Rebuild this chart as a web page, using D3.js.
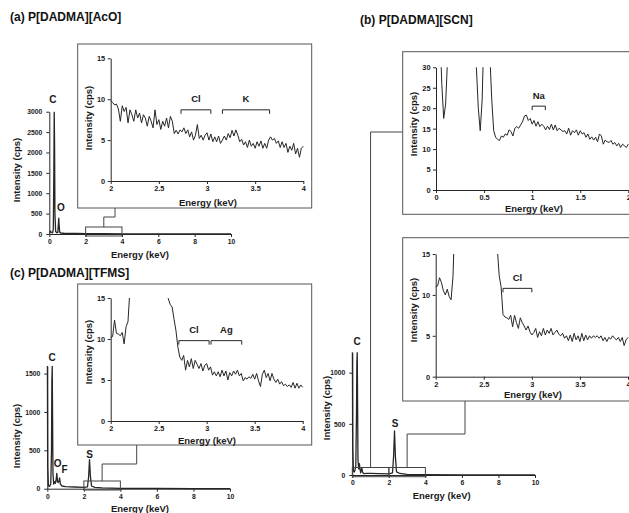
<!DOCTYPE html>
<html>
<head>
<meta charset="utf-8">
<script src="https://cdn.jsdelivr.net/npm/d3@7"></script>
<style>
  body { margin: 0; background: #fff; }
  svg { display: block; font-family: "Liberation Sans", Arial, sans-serif; font-weight: bold; }
</style>
</head>
<body>
<svg id="chart" width="629" height="513"></svg>
<script>
// ---- values ----
const step = 0.02; // keV per channel in the zoomed spectra

// (a) P[DADMA][AcO], full spectrum
const mainAEnergy = [0, 0.06, 0.12, 0.18, 0.22, 0.25, 0.27, 0.29, 0.31, 0.35, 0.42, 0.47, 0.5, 0.52, 0.54, 0.57, 0.62, 0.8, 1, 1.5, 2, 3, 4, 6, 8, 10];
const mainACps    = [20, 70, 40, 30, 120, 1500, 3000, 2200, 500, 60, 30, 40, 250, 390, 230, 50, 25, 18, 15, 12, 10, 6, 4, 3, 2, 1];
// (a) zoom 2-4 keV
const insetAStart = 2;
const insetACps = [
  9.8, 9.6, 9.3, 9.4, 8.8, 7.3, 9.2, 8.5, 9.0, 7.1,
  8.7, 8.1, 7.3, 8.7, 7.7, 8.3, 7.1, 8.1, 7.7, 6.7,
  7.9, 7.3, 6.5, 8.7, 6.9, 7.5, 6.3, 7.3, 6.7, 7.7,
  6.5, 7.9, 7.3, 5.8, 6.2, 5.75, 6.25, 6.0, 6.5, 5.8,
  6.25, 5.4, 6.0, 5.0, 5.6, 6.9, 5.2, 5.6, 5.0, 5.6,
  5.9, 5.0, 5.75, 4.8, 5.4, 4.8, 5.5, 4.6, 5.0, 5.5,
  5.0, 5.8, 5.3, 6.2, 5.5, 6.25, 5.6, 4.8, 5.1, 4.4,
  4.8, 4.1, 5.0, 4.25, 4.6, 4.0, 4.8, 4.25, 4.9, 4.0,
  4.6, 4.0, 5.0, 5.4, 5.0, 5.2, 4.6, 4.9, 4.1, 4.8,
  4.1, 4.6, 3.5, 4.25, 3.75, 4.6, 3.3, 4.0, 2.9, 4.0,
  4.25];

// (c) P[DADMA][TFMS], full spectrum
const mainCEnergy = [0, 0.02, 0.06, 0.12, 0.19, 0.23, 0.25, 0.27, 0.29, 0.31, 0.35, 0.4, 0.44, 0.48, 0.52, 0.56, 0.6, 0.64, 0.67, 0.72, 0.8, 1, 1.5, 2, 2.2, 2.26, 2.31, 2.36, 2.42, 2.6, 3, 4, 6, 8, 10];
const mainCCps    = [1600, 300, 40, 30, 60, 500, 1400, 1600, 900, 200, 60, 90, 70, 110, 200, 90, 80, 100, 140, 60, 35, 28, 22, 18, 25, 150, 380, 160, 35, 18, 10, 5, 3, 2, 1];
// (c) zoom 2-4 keV
const insetCStart = 2;
const insetCCps = [
  10.2, 10.3, 12.3, 10.7, 10.6, 10.4, 10.8, 9.4, 11.5, 12.1,
  16, 22, 45, 110, 260, 370, 340, 220, 110, 55,
  35, 27, 23, 21, 20, 19, 18, 17.5, 17.2, 17,
  14.9, 14.2, 13.9, 12.4, 11.0, 9.0, 7.8, 7.4, 8.0, 6.2,
  7.4, 6.6, 7.6, 6.4, 7.4, 6.9, 6.4, 7.0, 6.1, 6.8,
  7.0, 6.2, 6.6, 5.6, 6.0, 5.5, 6.0, 5.4, 6.2, 5.5,
  6.1, 5.0, 5.9, 5.5, 6.1, 5.7, 6.2, 5.5, 5.8, 4.9,
  5.3, 5.1, 5.4, 5.2, 5.7, 5.1, 5.8, 4.9, 4.2, 5.7,
  6.2, 5.3, 5.8, 4.9, 5.8, 5.1, 4.7, 5.1, 4.5, 4.8,
  4.3, 4.5, 4.2, 4.4, 4.1, 4.7, 4.0, 4.6, 4.0, 4.4,
  4.1];

// (b) P[DADMA][SCN], full spectrum
const mainBEnergy = [0, 0.02, 0.06, 0.12, 0.19, 0.23, 0.25, 0.27, 0.29, 0.31, 0.35, 0.39, 0.42, 0.46, 0.52, 0.56, 0.62, 0.8, 1, 1.5, 2, 2.2, 2.26, 2.31, 2.36, 2.42, 2.6, 3, 4, 6, 8, 10];
const mainBCps    = [1200, 300, 40, 30, 80, 600, 1100, 1200, 700, 150, 60, 110, 60, 20, 70, 30, 14, 15, 16, 14, 11, 20, 180, 430, 180, 30, 15, 6, 4, 2, 1, 1];
// (b) zoom 0-2 keV
const insetB1Start = 0;
const insetB1Cps = [
  400, 150, 40, 26, 17.5, 21, 32, 80, 200, 450,
  700, 900, 1100, 1200, 1150, 700, 300, 120, 70, 90,
  60, 30, 20, 14.5, 22, 40, 70, 45, 33, 22,
  14.5, 12.9, 12.4, 12.1, 13.2, 12.9, 13.7, 13.4, 14.7, 14.3,
  13.2, 15.1, 15.5, 15.1, 15.9, 16.7, 18.1, 18.3, 17.0, 17.5,
  16.1, 17.0, 15.6, 16.7, 15.5, 16.1, 15.6, 14.7, 15.6, 14.8,
  16.1, 14.7, 15.9, 14.5, 15.1, 14.7, 14.3, 14.5, 13.7, 15.1,
  13.4, 14.5, 14.0, 14.7, 13.4, 14.5, 13.7, 14.0, 12.9, 13.7,
  12.4, 13.0, 12.2, 12.9, 11.8, 13.7, 13.2, 11.2, 12.2, 11.8,
  11.6, 12.1, 11.2, 11.6, 10.8, 11.4, 10.4, 11.2, 10.8, 10.4,
  11.2];
// (b) zoom 2-4 keV
const insetB2Start = 2;
const insetB2Cps = [
  11.0, 11.1, 12.1, 11.5, 10.5, 10.0, 10.7, 9.8, 9.4, 12.3,
  20, 40, 90, 200, 350, 430, 400, 250, 120, 60,
  38, 30, 26, 24, 22, 21, 20, 19, 18, 17.5,
  17, 16.5, 15.8, 12.4, 11.0, 7.6, 7.3, 7.2, 7.0, 7.5,
  6.1, 7.5, 6.6, 5.9, 7.2, 6.6, 6.2, 5.7, 6.2, 5.5,
  5.1, 5.4, 5.9, 4.8, 5.5, 5.0, 5.9, 5.1, 5.7, 5.3,
  5.9, 5.1, 5.4, 5.7, 5.2, 5.0, 5.3, 4.7, 5.0, 4.4,
  5.1, 4.3, 5.3, 4.5, 5.0, 4.3, 5.3, 4.4, 5.1, 4.5,
  5.0, 4.7, 5.0, 4.8, 5.0, 4.7, 5.0, 4.4, 4.8, 4.3,
  4.8, 4.6, 5.0, 4.7, 4.5, 4.8, 4.3, 4.8, 3.8, 4.5,
  4.8];

// tick labels
const mainTicks = [0, 2, 4, 6, 8, 10];
const mainATicksY = [0, 500, 1000, 1500, 2000, 2500, 3000];
const mainCTicksY = [0, 500, 1000, 1500];
const mainBTicksY = [0, 500, 1000];
const zoomTicksX24 = [2, 2.5, 3, 3.5, 4];
const zoomTicksX02 = [0, 0.5, 1, 1.5, 2];
const zoomTicksY15 = [0, 5, 10, 15];
const zoomTicksY30 = [0, 5, 10, 15, 20, 25, 30];

// peak labels [text, keV, cps] and element brackets [text, keV from, keV to, cps]
const peaksA = [['C', 0.2, 3290], ['O', 0.64, 660]];
const peaksC = [['C', 0.26, 1715], ['O', 0.56, 330], ['F', 0.95, 250], ['S', 2.32, 452]];
const peaksB = [['C', 0.26, 1300], ['S', 2.34, 500]];
const bracketsA = [['Cl', 2.73, 3.04, 8.7], ['K', 3.16, 3.65, 8.7]];
const bracketsC = [['Cl', 2.71, 3.025, 9.8], ['Ag', 3.045, 3.365, 9.8]];
const bracketsB1 = [['Na', 1.0, 1.137, 20.5]];
const bracketsB2 = [['Cl', 2.7, 3.0, 10.8]];

const svg = d3.select('#chart');
const ink = '#262626';
let clipCount = 0;

function channels(start, cps) {
  return cps.map((v, i) => [start + i * step, v]);
}

function styleAxis(a, size) {
  a.select('.domain').attr('stroke', ink).attr('stroke-width', 1);
  a.selectAll('.tick line').attr('stroke', ink);
  a.selectAll('.tick text').attr('fill', '#1a1a1a').attr('font-size', size)
    .attr('font-weight', 'bold').attr('font-family', '"Liberation Sans", Arial, sans-serif');
}

function plot(c) {
  const g = svg.append('g');
  const x = d3.scaleLinear().domain(c.xDomain).range([c.left, c.right]);
  const y = d3.scaleLinear().domain(c.yDomain).range([c.bottom, c.top]);
  const id = 'clip' + (clipCount++);
  svg.append('clipPath').attr('id', id).append('rect')
    .attr('x', c.left - 1).attr('y', c.top).attr('width', c.right - c.left + 2).attr('height', c.bottom - c.top + 2);

  g.append('path').datum(c.points)
    .attr('clip-path', `url(#${id})`)
    .attr('d', d3.line().x(d => x(d[0])).y(d => y(d[1])))
    .attr('fill', 'none').attr('stroke', ink).attr('stroke-width', c.lw)
    .attr('stroke-linejoin', 'round');

  const ax = g.append('g').attr('transform', `translate(0,${c.bottom})`)
    .call(d3.axisBottom(x).tickValues(c.xTicks).tickSize(3).tickSizeOuter(0).tickPadding(2).tickFormat(d => String(d)));
  styleAxis(ax, c.tickFont);
  const ay = g.append('g').attr('transform', `translate(${c.left},0)`)
    .call(d3.axisLeft(y).tickValues(c.yTicks).tickSize(3).tickSizeOuter(0).tickPadding(c.yPad).tickFormat(d => String(d)));
  styleAxis(ay, c.tickFont);

  g.append('text').attr('x', c.xLabel[0]).attr('y', c.xLabel[1])
    .attr('text-anchor', 'middle').attr('font-size', c.labelFont).attr('fill', '#1a1a1a')
    .text('Energy (keV)');
  g.append('text').attr('transform', `translate(${c.yLabel[0]},${c.yLabel[1]}) rotate(-90)`)
    .attr('text-anchor', 'middle').attr('dominant-baseline', 'central')
    .attr('font-size', c.labelFont).attr('fill', '#1a1a1a')
    .text('Intensity (cps)');

  (c.peaks || []).forEach(p => {
    g.append('text').attr('x', x(p[1])).attr('y', y(p[2]))
      .attr('text-anchor', 'middle').attr('dominant-baseline', 'central')
      .attr('font-size', 10).attr('fill', '#1a1a1a').text(p[0]);
  });
  (c.brackets || []).forEach(b => {
    const x0 = x(b[1]), x1 = x(b[2]), yy = y(b[3]);
    g.append('path').attr('d', `M${x0},${yy + 4}V${yy}H${x1}V${yy + 4}`)
      .attr('fill', 'none').attr('stroke', ink).attr('stroke-width', 1);
    g.append('text').attr('x', (x0 + x1) / 2).attr('y', yy - 11)
      .attr('text-anchor', 'middle').attr('dominant-baseline', 'central')
      .attr('font-size', 9.5).attr('fill', '#1a1a1a').text(b[0]);
  });
  return { x, y };
}

function frame(x0, y0, x1, y1) {
  svg.append('rect').attr('x', x0).attr('y', y0).attr('width', x1 - x0).attr('height', y1 - y0)
    .attr('fill', '#fff').attr('stroke', '#555').attr('stroke-width', 1);
}

function link(pts) {
  svg.append('path').attr('d', d3.line()(pts))
    .attr('fill', 'none').attr('stroke', '#444').attr('stroke-width', 1);
}

function zoomBox(s, e0, e1, yTop, yBot) {
  svg.append('rect').attr('x', s.x(e0)).attr('y', yTop)
    .attr('width', s.x(e1) - s.x(e0)).attr('height', yBot - yTop)
    .attr('fill', 'none').attr('stroke', '#444').attr('stroke-width', 1);
}

function title(x, y, t) {
  svg.append('text').attr('x', x).attr('y', y).attr('font-size', 12).attr('fill', '#111').text(t);
}

// ---------- panel (a) ----------
title(10, 21, '(a) P[DADMA][AcO]');
const sA = plot({
  left: 49.3, right: 231, top: 111.7, bottom: 234,
  xDomain: [0, 10], yDomain: [0, 3000], xTicks: mainTicks, yTicks: mainATicksY,
  points: mainAEnergy.map((e, i) => [e, mainACps[i]]), lw: 1.3,
  tickFont: 6.8, yPad: 4, labelFont: 9.5,
  xLabel: [140, 258], yLabel: [16, 170], peaks: peaksA
});
zoomBox(sA, 2, 4, 227, 236);
link([[sA.x(3), 227], [sA.x(3), 217], [115, 217], [115, 208]]);
frame(77.7, 44, 311.7, 208);
plot({
  left: 110.7, right: 303.3, top: 58.3, bottom: 181,
  xDomain: [2, 4], yDomain: [0, 15], xTicks: zoomTicksX24, yTicks: zoomTicksY15,
  points: channels(insetAStart, insetACps), lw: 1,
  tickFont: 7.4, yPad: 2.5, labelFont: 9.5,
  xLabel: [208, 205.5], yLabel: [88, 118], brackets: bracketsA
});

// ---------- panel (c) ----------
title(10, 277, '(c) P[DADMA][TFMS]');
const sC = plot({
  left: 47.3, right: 230, top: 365.9, bottom: 488.7,
  xDomain: [0, 10], yDomain: [0, 1600], xTicks: mainTicks, yTicks: mainCTicksY,
  points: mainCEnergy.map((e, i) => [e, mainCCps[i]]), lw: 1.3,
  tickFont: 6.8, yPad: 4, labelFont: 9.5,
  xLabel: [140, 511.5], yLabel: [16, 436], peaks: peaksC
});
zoomBox(sC, 2, 4, 481, 490);
link([[sC.x(3), 481], [sC.x(3), 464], [136.7, 464], [136.7, 445]]);
frame(77.7, 284, 311.7, 445);
plot({
  left: 110.7, right: 302.7, top: 298, bottom: 421,
  xDomain: [2, 4], yDomain: [0, 15], xTicks: zoomTicksX24, yTicks: zoomTicksY15,
  points: channels(insetCStart, insetCCps), lw: 1,
  tickFont: 7.4, yPad: 2.5, labelFont: 9.5,
  xLabel: [207, 443.5], yLabel: [88, 352], brackets: bracketsC
});

// ---------- panel (b) ----------
title(360, 24, '(b) P[DADMA][SCN]');
const sB = plot({
  left: 352.3, right: 535, top: 352.2, bottom: 475,
  xDomain: [0, 10], yDomain: [0, 1200], xTicks: mainTicks, yTicks: mainBTicksY,
  points: mainBEnergy.map((e, i) => [e, mainBCps[i]]), lw: 1.3,
  tickFont: 6.8, yPad: 4, labelFont: 9.5,
  xLabel: [441.7, 499], yLabel: [326, 408], peaks: peaksB
});
zoomBox(sB, 0, 2, 467.5, 476.7);
zoomBox(sB, 2, 4, 467.5, 476.7);
link([[sB.x(1), 467.5], [sB.x(1), 132], [402.7, 132]]);
link([[sB.x(3), 467.5], [sB.x(3), 434], [465, 434], [465, 401]]);
frame(402.7, 51.7, 660, 214.3);
plot({
  left: 436, right: 628.3, top: 67.3, bottom: 190,
  xDomain: [0, 2], yDomain: [0, 30], xTicks: zoomTicksX02, yTicks: zoomTicksY30,
  points: channels(insetB1Start, insetB1Cps), lw: 1,
  tickFont: 7.4, yPad: 2.5, labelFont: 9.5,
  xLabel: [534, 211.5], yLabel: [413, 124], brackets: bracketsB1
});
frame(402.7, 237.7, 660, 401);
plot({
  left: 435.7, right: 628, top: 254, bottom: 376.7,
  xDomain: [2, 4], yDomain: [0, 15], xTicks: zoomTicksX24, yTicks: zoomTicksY15,
  points: channels(insetB2Start, insetB2Cps), lw: 1,
  tickFont: 7.4, yPad: 2.5, labelFont: 9.5,
  xLabel: [533, 397.5], yLabel: [413, 310], brackets: bracketsB2
});
</script>
</body>
</html>
